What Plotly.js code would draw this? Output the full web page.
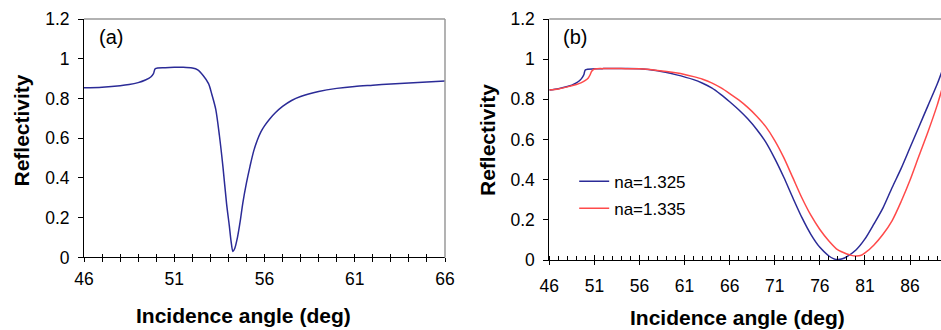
<!DOCTYPE html>
<html>
<head>
<meta charset="utf-8">
<script src="https://cdn.plot.ly/plotly-3.0.1.min.js"></script>
<style>html,body{margin:0;padding:0;background:#fff;}#chart{width:941px;height:330px;}</style>
</head>
<body>
<div id="chart"></div>
<script>
// Panel (a)
const angleA = [46, 47, 48, 48.5, 49, 49.4, 49.7, 49.85, 49.95, 50.5, 51, 51.5, 52, 52.3, 52.6, 52.9, 53.1, 53.3, 53.5, 53.7, 53.9, 54.05, 54.15, 54.25, 54.35, 54.5, 54.65, 54.8, 55, 55.2, 55.4, 55.6, 55.8, 56, 56.3, 56.6, 57, 57.5, 58, 59, 60, 61, 62, 63, 64, 65, 66];
const reflA = [0.854, 0.857, 0.864, 0.870, 0.880, 0.893, 0.908, 0.925, 0.950, 0.955, 0.957, 0.957, 0.953, 0.944, 0.916, 0.875, 0.815, 0.745, 0.615, 0.455, 0.27, 0.16, 0.08, 0.03, 0.045, 0.10, 0.18, 0.275, 0.375, 0.46, 0.535, 0.59, 0.632, 0.662, 0.698, 0.728, 0.76, 0.79, 0.81, 0.835, 0.851, 0.861, 0.867, 0.873, 0.878, 0.883, 0.888];

// Panel (b)
const angleB1 = [46, 47, 48, 48.5, 49, 49.4, 49.7, 49.85, 50, 51, 52, 54, 56, 58, 60, 62, 63, 64, 65, 66, 67, 68, 69, 70, 71, 72, 73, 74, 75, 76, 77, 77.5, 78, 78.5, 79, 80, 81, 82, 83, 84, 85, 86, 87, 88, 89, 89.5];
const reflB1 = [0.846, 0.853, 0.864, 0.871, 0.882, 0.895, 0.912, 0.925, 0.947, 0.952, 0.953, 0.953, 0.952, 0.942, 0.923, 0.898, 0.88, 0.857, 0.825, 0.788, 0.748, 0.703, 0.65, 0.587, 0.505, 0.412, 0.31, 0.212, 0.128, 0.063, 0.02, 0.007, 0.002, 0.006, 0.017, 0.05, 0.105, 0.18, 0.26, 0.36, 0.455, 0.56, 0.665, 0.77, 0.875, 0.935];
const angleB2 = [46, 47, 48, 49, 49.5, 50, 50.3, 50.5, 50.7, 51, 52, 54, 56, 58, 60, 61, 62, 63, 64, 65, 66, 67, 68, 69, 70, 71, 72, 73, 74, 75, 76, 77, 78, 79, 79.5, 80, 80.5, 81, 82, 83, 84, 85, 86, 87, 88, 89, 89.5];
const reflB2 = [0.846, 0.852, 0.862, 0.874, 0.882, 0.894, 0.905, 0.92, 0.94, 0.951, 0.953, 0.953, 0.952, 0.944, 0.932, 0.924, 0.913, 0.90, 0.882, 0.858, 0.829, 0.797, 0.76, 0.716, 0.664, 0.595, 0.51, 0.41, 0.31, 0.223, 0.152, 0.095, 0.05, 0.03, 0.023, 0.02, 0.022, 0.035, 0.075, 0.128, 0.195, 0.29, 0.398, 0.52, 0.64, 0.77, 0.845];

const seriesNames = ['na=1.325', 'na=1.335'];
const yTicks = [0, 0.2, 0.4, 0.6, 0.8, 1, 1.2];

const FONT = 'Liberation Sans, Arial, sans-serif';
const BLUE = '#2b2b97';
const RED = '#ff4a4a';

const traces = [
  {x: angleA, y: reflA, xaxis: 'x', yaxis: 'y', mode: 'lines', line: {color: BLUE, width: 1.5, shape: 'spline', smoothing: 0.8}, showlegend: false, hoverinfo: 'skip'},
  {x: angleB1, y: reflB1, xaxis: 'x2', yaxis: 'y2', mode: 'lines', name: seriesNames[0], legendgroup: 'g1', line: {color: BLUE, width: 1.5, shape: 'spline', smoothing: 0.8}},
  {x: angleB2, y: reflB2, xaxis: 'x2', yaxis: 'y2', mode: 'lines', name: seriesNames[1], legendgroup: 'g2', line: {color: RED, width: 1.5, shape: 'spline', smoothing: 0.8}},
  {x: [null], y: [null], xaxis: 'x3', yaxis: 'y', mode: 'lines', showlegend: false, hoverinfo: 'skip'},
  {x: [null], y: [null], xaxis: 'x4', yaxis: 'y2', mode: 'lines', showlegend: false, hoverinfo: 'skip'}
];

const tickFont = {family: FONT, size: 17.5, color: '#000'};
const yBase = {
  range: [0, 1.2], tickvals: yTicks, ticks: 'outside', ticklen: 5, tickcolor: '#000', tickwidth: 1,
  showline: true, linecolor: '#000', linewidth: 1, showgrid: false, zeroline: false,
  tickfont: tickFont, ticklabelstandoff: 5, fixedrange: true
};

const layout = {
  width: 941, height: 330,
  margin: {l: 0, r: 0, t: 0, b: 0},
  paper_bgcolor: '#fff', plot_bgcolor: '#fff',
  font: {family: FONT, color: '#000'},
  showlegend: true,
  legend: {
    x: 0.6102, y: 0.504, xanchor: 'left', yanchor: 'top',
    bgcolor: 'rgba(0,0,0,0)', borderwidth: 0,
    font: {family: FONT, size: 17, color: '#000'},
    traceorder: 'grouped', tracegroupgap: 2, itemwidth: 30
  },
  xaxis: {
    domain: [0.08927, 0.4729], anchor: 'y', range: [46, 66],
    tick0: 46, dtick: 5, ticks: 'outside', ticklen: 4, tickcolor: '#000', tickwidth: 1,
    minor: {dtick: 1, ticks: 'outside', ticklen: 4, tickcolor: '#000', tickwidth: 1, showgrid: false},
    showline: true, linecolor: '#000', linewidth: 1, showgrid: false, zeroline: false,
    tickfont: tickFont, ticklabelstandoff: 2, fixedrange: true
  },
  xaxis3: {
    overlaying: 'x', anchor: 'y', range: [46, 66],
    tick0: 46, dtick: 1, ticks: 'inside', ticklen: 3, tickcolor: '#000', tickwidth: 1,
    showticklabels: false, showline: false, showgrid: false, zeroline: false, fixedrange: true
  },
  yaxis: Object.assign({}, yBase, {domain: [0.2197, 0.9424], anchor: 'x'}),
  xaxis2: {
    domain: [0.58374, 1], anchor: 'y2', range: [46, 89.43],
    tick0: 46, dtick: 5, ticks: 'outside', ticklen: 4, tickcolor: '#000', tickwidth: 1,
    minor: {dtick: 1, ticks: 'inside', ticklen: 4, tickcolor: '#000', tickwidth: 1, showgrid: false},
    showline: true, linecolor: '#000', linewidth: 1, showgrid: false, zeroline: false,
    tickfont: tickFont, ticklabelstandoff: 6, fixedrange: true
  },
  xaxis4: {
    overlaying: 'x2', anchor: 'y2', range: [46, 89.43],
    tick0: 46, dtick: 5, ticks: 'inside', ticklen: 5, tickcolor: '#000', tickwidth: 1,
    showticklabels: false, showline: false, showgrid: false, zeroline: false, fixedrange: true
  },
  yaxis2: Object.assign({}, yBase, {domain: [0.2121, 0.9424], anchor: 'x2'}),
  shapes: [
    {type: 'line', xref: 'x domain', yref: 'y domain', x0: 0, x1: 1, y0: 1, y1: 1, line: {color: '#999', width: 1.5}},
    {type: 'line', xref: 'x domain', yref: 'y domain', x0: 1, x1: 1, y0: 0, y1: 1, line: {color: '#999', width: 1.5}},
    {type: 'line', xref: 'x2 domain', yref: 'y2 domain', x0: 0, x1: 1, y0: 1, y1: 1, line: {color: '#999', width: 1.5}}
  ],
  annotations: [
    {text: '(a)', xref: 'paper', yref: 'paper', x: 97/941, y: 1 - 37/330, xanchor: 'left', yanchor: 'middle', showarrow: false, font: {family: FONT, size: 20, color: '#000'}},
    {text: '(b)', xref: 'paper', yref: 'paper', x: 561/941, y: 1 - 37/330, xanchor: 'left', yanchor: 'middle', showarrow: false, font: {family: FONT, size: 20, color: '#000'}},
    {text: '<b>Incidence angle (deg)</b>', xref: 'paper', yref: 'paper', x: 243/941, y: 1 - 315/330, xanchor: 'center', yanchor: 'middle', showarrow: false, font: {family: FONT, size: 21, color: '#000'}},
    {text: '<b>Incidence angle (deg)</b>', xref: 'paper', yref: 'paper', x: 737/941, y: 1 - 317/330, xanchor: 'center', yanchor: 'middle', showarrow: false, font: {family: FONT, size: 21, color: '#000'}},
    {text: '<b>Reflectivity</b>', xref: 'paper', yref: 'paper', x: 21/941, y: 1 - 130.5/330, xanchor: 'center', yanchor: 'middle', textangle: -90, showarrow: false, font: {family: FONT, size: 21, color: '#000'}},
    {text: '<b>Reflectivity</b>', xref: 'paper', yref: 'paper', x: 487/941, y: 1 - 140/330, xanchor: 'center', yanchor: 'middle', textangle: -90, showarrow: false, font: {family: FONT, size: 21, color: '#000'}}
  ]
};

Plotly.newPlot('chart', traces, layout, {staticPlot: true, displayModeBar: false});
</script>
</body>
</html>
